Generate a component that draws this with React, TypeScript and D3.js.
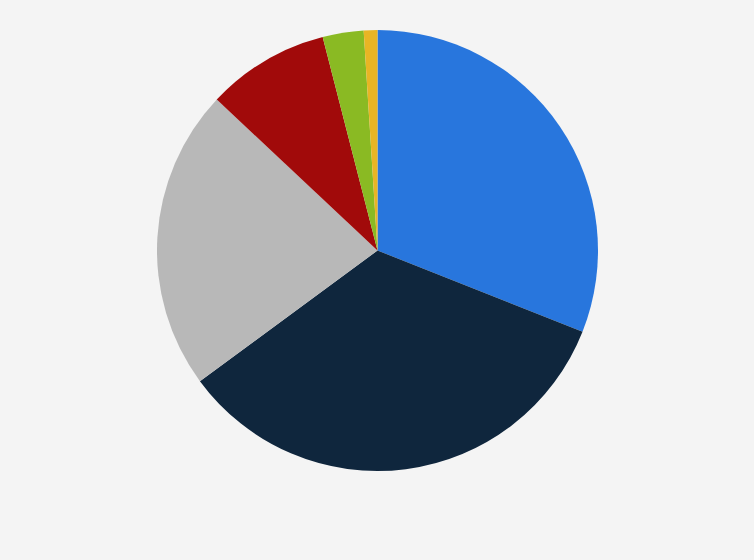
import React from "react";
import * as d3 from "d3";

const WIDTH = 754;
const HEIGHT = 560;

// slice shares, clockwise from 12 o'clock
const categories = ["A", "B", "C", "D", "E", "F"];
const values = [31.0, 33.9, 22.1, 9.0, 3.0, 1.0];
const colors = ["#2876dd", "#0f263d", "#b8b8b8", "#a10a0a", "#8aba23", "#e8b524"];

const slices = categories.map((c, i) => ({ name: c, value: values[i], color: colors[i] }));

export default function App() {
  const cx = 377.5;
  const cy = 250.5;
  const radius = 220.5;

  const pie = d3
    .pie<{ name: string; value: number; color: string }>()
    .value((d) => d.value)
    .sort(null);
  const arc = d3
    .arc<d3.PieArcDatum<{ name: string; value: number; color: string }>>()
    .innerRadius(0)
    .outerRadius(radius);

  const arcs = pie(slices);

  return (
    <svg
      width={WIDTH}
      height={HEIGHT}
      style={{ position: "absolute", left: 0, top: 0, background: "#f4f4f4" }}
    >
      <rect width={WIDTH} height={HEIGHT} fill="#f4f4f4" />
      <g transform={`translate(${cx},${cy})`}>
        {arcs.map((a) => (
          <path key={a.data.name} d={arc(a) || ""} fill={a.data.color} />
        ))}
      </g>
    </svg>
  );
}
